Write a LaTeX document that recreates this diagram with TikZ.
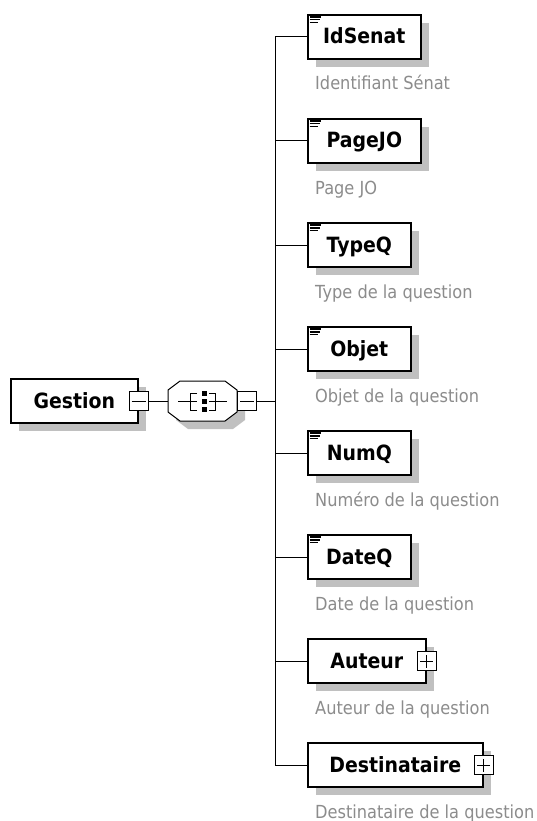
\documentclass[tikz,border=0pt]{standalone}
\usepackage{fontspec}
\setmainfont{DejaVu Sans}[FakeStretch=0.9]
\usetikzlibrary{shadows}
\definecolor{shadowgray}{RGB}{192,192,192}
\definecolor{descgray}{RGB}{140,140,140}
\tikzset{
  boxshadow/.style={drop shadow={shadow xshift=8pt, shadow yshift=-8pt, fill=shadowgray, opacity=1}},
  elem/.style={draw, line width=1.6pt, fill=white, minimum height=44pt, inner sep=0pt,
    text height=17pt, text depth=3pt, anchor=west,
    font=\fontsize{21}{25}\selectfont\bfseries, boxshadow},
  desc/.style={anchor=base west, text=descgray, inner sep=0pt, font=\fontsize{18}{22}\selectfont},
  pm/.style={draw, line width=1pt, fill=white, minimum size=19pt, inner sep=0pt},
  minusbox/.style={pm, path picture={\draw[line width=1pt]
      ([xshift=2.5pt]path picture bounding box.west) -- ([xshift=-2.5pt]path picture bounding box.east);}},
  plusbox/.style={pm, path picture={\draw[line width=1pt]
      ([xshift=3pt]path picture bounding box.west) -- ([xshift=-3pt]path picture bounding box.east)
      ([yshift=3pt]path picture bounding box.south) -- ([yshift=-3pt]path picture bounding box.north);}},
  conn/.style={line width=1pt},
  icon/.style={line width=1.4pt},
  compo/.style={rectangle, minimum width=69pt, minimum height=40pt, inner sep=0pt},
}
\begin{document}
\begin{tikzpicture}[x=1pt,y=-1pt]
\fill[white] (0,0) rectangle (536,821);
\useasboundingbox (0,0) rectangle (536,821);

% root
\node[elem, minimum width=127pt] (gestion) at (10,401) {Gestion\hspace{7pt}};
\node[minusbox] (gminus) at (gestion.east) {};

% compositor (sequence)
\node[compo] (comp) at (202.5,401) {};
\begin{scope}[shift={(comp.center)}]
  \fill[shadowgray] (-14.5,-12) -- (30.5,-12) -- (42.5,-3) -- (42.5,19) -- (30.5,28) -- (-14.5,28) -- (-26.5,19) -- (-26.5,-3) -- cycle;
  \draw[conn, fill=white] (-22.5,-20) -- (22.5,-20) -- (34.5,-11) -- (34.5,11) -- (22.5,20) -- (-22.5,20) -- (-34.5,11) -- (-34.5,-11) -- cycle;
  \draw[conn] (-24.5,0) -- (-5.5,0) (6.5,0) -- (24.5,0);
  \draw[conn] (-5.5,-8) -- (-12.5,-8) -- (-12.5,9) -- (-5.5,9);
  \draw[conn] (6.5,-8) -- (12.5,-8) -- (12.5,9) -- (6.5,9);
  \fill (-1,-10.5) rectangle (4,-5.5);
  \fill (-1,-2.5) rectangle (4,2.5);
  \fill (-1,5.5) rectangle (4,10.5);
\end{scope}
\node[minusbox, anchor=west] (cminus) at (comp.east) {};

\coordinate (bus) at (275,401);

% children
\node[elem, minimum width=113pt] (idsenat) at (307,37) {IdSenat};
\node[elem, minimum width=113pt] (pagejo) at (307,141) {PageJO};
\node[elem, minimum width=103pt] (typeq) at (307,245) {TypeQ};
\node[elem, minimum width=103pt] (objet) at (307,349) {Objet};
\node[elem, minimum width=103pt] (numq) at (307,453) {NumQ};
\node[elem, minimum width=103pt] (dateq) at (307,557) {DateQ};
\node[elem, minimum width=118pt] (auteur) at (307,661) {Auteur\hspace{10pt}};
\node[elem, minimum width=175pt] (dest) at (307,765) {Destinataire\hspace{11pt}};
\node[plusbox] (aplus) at (auteur.east) {};
\node[plusbox] (dplus) at (dest.east) {};

% simple-type icons
\foreach \e in {idsenat,pagejo,typeq,objet,numq,dateq}{
  \draw[icon] ([xshift=2.5pt,yshift=-2.8pt]\e.north west) -- ++(11,0);
  \draw[icon] ([xshift=2.5pt,yshift=-5.6pt]\e.north west) -- ++(10,0);
  \draw[icon] ([xshift=2.5pt,yshift=-8.4pt]\e.north west) -- ++(8,0);
}

% descriptions
\node[desc] (didsenat) at (315,90) {Identifiant Sénat};
\node[desc] (dpagejo) at (315,194) {Page JO};
\node[desc] (dtypeq) at (315,298) {Type de la question};
\node[desc] (dobjet) at (315,402) {Objet de la question};
\node[desc] (dnumq) at (315,506) {Numéro de la question};
\node[desc] (ddateq) at (315,610) {Date de la question};
\node[desc] (dauteur) at (315,714) {Auteur de la question};
\node[desc] (ddest) at (315,818) {Destinataire de la question};

% connectors
\draw[conn] (gminus.east) -- (comp.west);
\draw[conn] (cminus.east) -- (bus);
\foreach \e in {idsenat,pagejo,typeq,objet,numq,dateq,auteur,dest}{
  \draw[conn] (\e.west) -| (bus);
}
\end{tikzpicture}
\end{document}
